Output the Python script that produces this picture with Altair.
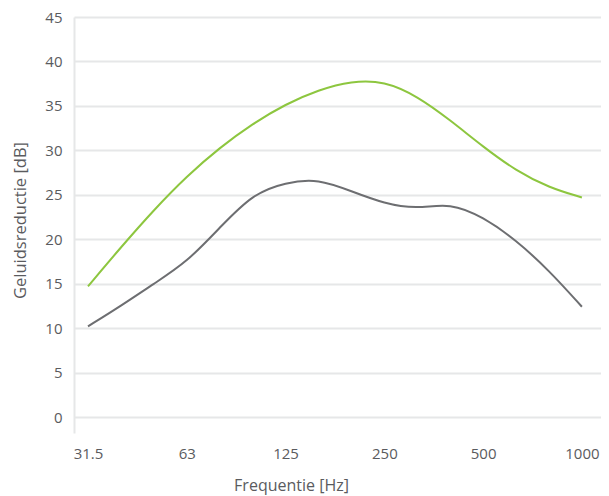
import altair as alt
import pandas as pd

# third-octave bands (Hz)
bands = ["31.5", "40", "50", "63", "80", "100", "125", "160", "200", "250",
         "315", "400", "500", "630", "800", "1000"]
green_vals = [14.7, 19.1, 23.3, 27.1, 30.3, 33.0, 35.2, 36.8, 37.8, 37.8,
              36.1, 33.4, 30.4, 27.7, 25.8, 24.7]
gray_vals = [10.2, 12.5, 15.0, 17.4, 21.3, 25.1, 26.4, 26.8, 25.4, 24.0,
             23.4, 24.1, 22.5, 19.9, 16.5, 12.4]
tick_idx = [0, 3, 6, 9, 12, 15]
y_ticks = [0, 5, 10, 15, 20, 25, 30, 35, 40, 45]

rows = []
for i, b in enumerate(bands):
    rows.append({"i": i, "band": b, "serie": "A", "v": green_vals[i]})
    rows.append({"i": i, "band": b, "serie": "B", "v": gray_vals[i]})
df = pd.DataFrame(rows)

label_arr = "[" + ",".join("'" + b + "'" for b in bands) + "]"
FONT = "Open Sans"
TXT = "#5a5b5e"

chart = alt.Chart(df).mark_line(interpolate="basis", strokeWidth=2).encode(
    x=alt.X("i:Q",
            scale=alt.Scale(domain=[-0.425, 15.58], nice=False, zero=False),
            axis=alt.Axis(values=tick_idx, labelExpr=label_arr + "[datum.value]",
                          title="Frequentie [Hz]", grid=False, domain=False, ticks=False,
                          labelPadding=13, labelFontSize=15, labelColor=TXT,
                          labelFont=FONT, titleFont=FONT, titleFontSize=16,
                          titleFontWeight="normal", titleColor=TXT,
                          titleX=217, titleY=52, titleAlign="center",
                          titleBaseline="middle")),
    y=alt.Y("v:Q",
            scale=alt.Scale(domain=[-1.8, 45], nice=False, zero=False),
            axis=alt.Axis(values=y_ticks, title="Geluidsreductie [dB]", grid=True,
                          gridColor="#e6e7e8", gridWidth=2, domain=True,
                          domainColor="#e6e7e8", domainWidth=2, ticks=False,
                          labelPadding=12, labelFontSize=15, labelColor=TXT,
                          labelFont=FONT, titleFont=FONT, titleFontSize=16.5,
                          titleFontWeight="normal", titleColor=TXT,
                          titleX=-54, titleY=203, titleAlign="center",
                          titleBaseline="middle", titleAngle=270)),
    color=alt.Color("serie:N",
                    scale=alt.Scale(domain=["A", "B"], range=["#8dc63f", "#6d6e71"]),
                    legend=None),
    detail="serie:N",
).properties(
    width=527,
    height=416,
    autosize=alt.AutoSizeParams(type="none"),
    padding={"left": 66, "top": 9, "right": 0, "bottom": 62},
).configure_view(stroke=None)

chart.save("out.html", embed_options={"renderer": "svg", "actions": False})
